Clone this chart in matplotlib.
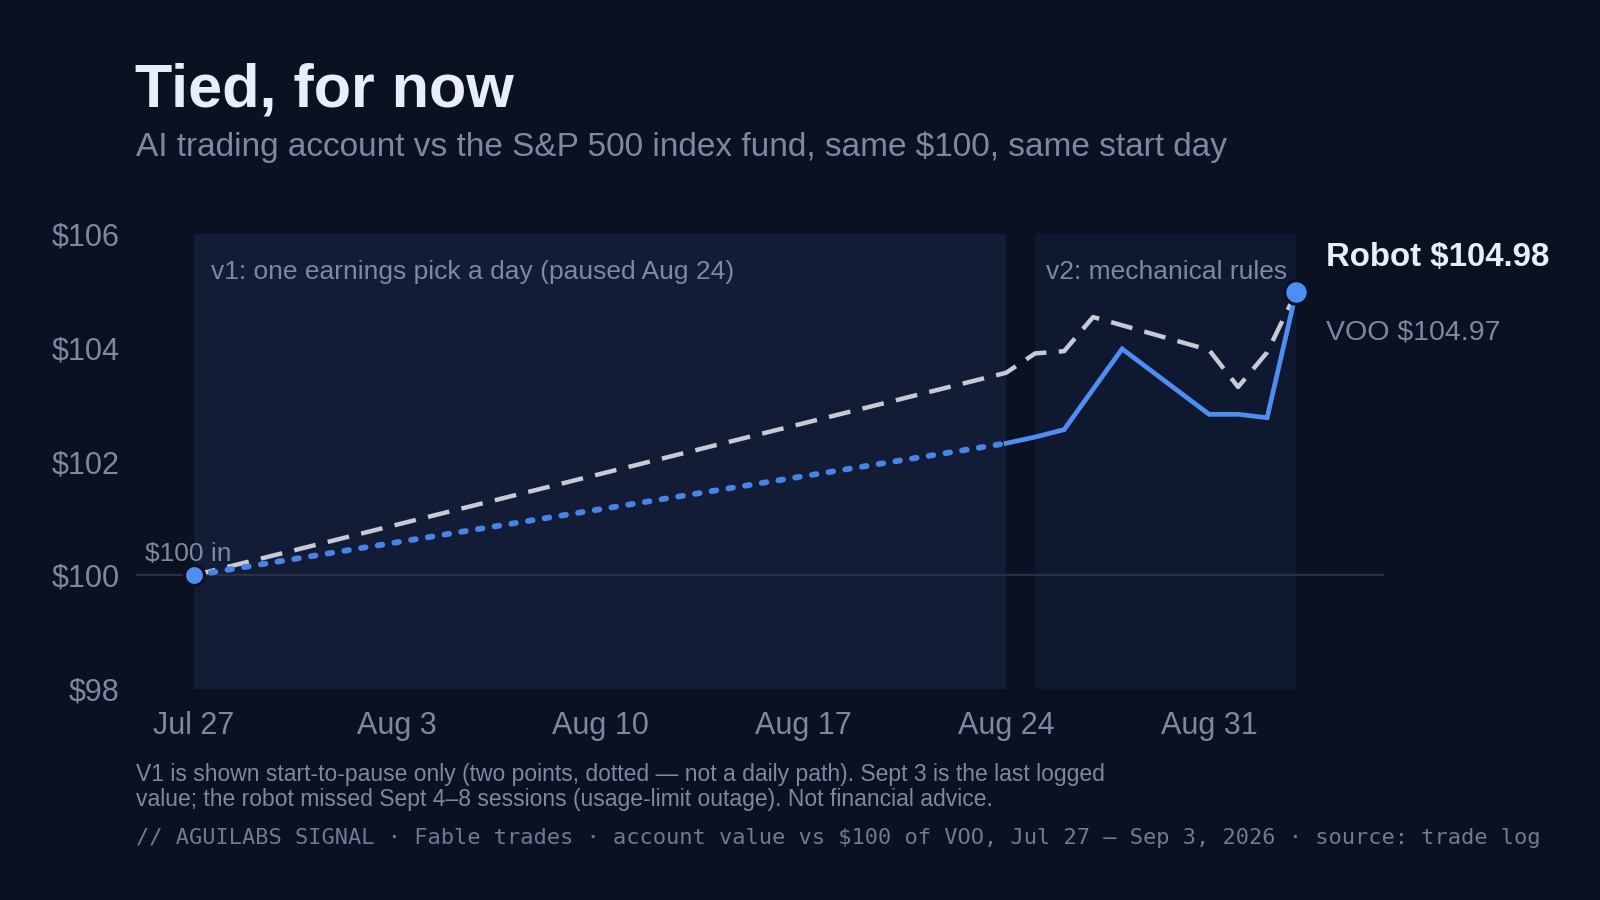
#!/usr/bin/env python3

import numpy as np
import matplotlib.pyplot as plt
import matplotlib.dates as mdates

# data
robot_v1_dates = np.array(["2026-07-27", "2026-08-24"], dtype="datetime64[D]")
robot_v1_vals = [100.00, 102.32]

robot_v2_dates = np.array(["2026-08-24", "2026-08-25", "2026-08-26", "2026-08-28",
                           "2026-08-31", "2026-09-01", "2026-09-02", "2026-09-03"],
                          dtype="datetime64[D]")
robot_v2_vals = [102.32, 102.43, 102.56, 103.98, 102.83, 102.83, 102.77, 104.98]

voo_dates = np.array(["2026-07-27", "2026-08-24", "2026-08-25", "2026-08-26", "2026-08-27",
                      "2026-08-31", "2026-09-01", "2026-09-02", "2026-09-03"],
                     dtype="datetime64[D]")
voo_vals = [100.00, 103.56, 103.90, 103.94, 104.54, 103.96, 103.31, 103.92, 104.97]

tick_dates = np.array(["2026-07-27", "2026-08-03", "2026-08-10", "2026-08-17",
                       "2026-08-24", "2026-08-31"], dtype="datetime64[D]")
tick_labels = ["Jul 27", "Aug 3", "Aug 10", "Aug 17", "Aug 24", "Aug 31"]
y_ticks = [98, 100, 102, 104, 106]

v1_span = np.array(["2026-07-27", "2026-08-24"], dtype="datetime64[D]")
v2_span = np.array(["2026-08-25", "2026-09-03"], dtype="datetime64[D]")

BG = "#0a1222"
V1_BG = "#121c34"
V2_BG = "#0e1930"
BLUE = "#4d8ef5"
DOT_BLUE = "#4684ea"
GREY_LINE = "#c5cad3"
MUTED = "#7d89a1"
WHITE = "#e8eef8"

plt.rcParams["font.family"] = ["Liberation Sans", "DejaVu Sans"]

fig = plt.figure(figsize=(16, 9), dpi=100, facecolor=BG)
ax = fig.add_axes([136 / 1600, 1 - 689 / 900, (1384 - 136) / 1600, (689 - 234) / 900])
ax.set_facecolor(BG)

d = lambda s: mdates.date2num(np.datetime64(s, "D"))

ax.axvspan(mdates.date2num(v1_span[0]), mdates.date2num(v1_span[1]), color=V1_BG, lw=0, zorder=0)
ax.axvspan(mdates.date2num(v2_span[0]), mdates.date2num(v2_span[1]), color=V2_BG, lw=0, zorder=0)
ax.axhline(100, color="#27304a", lw=1.6, zorder=1)

ax.plot(voo_dates, voo_vals, color=GREY_LINE, lw=3.2, ls=(0, (4.95, 2.8)), zorder=3)
ax.plot(robot_v1_dates, robot_v1_vals, color=DOT_BLUE, lw=4.2, ls=(0, (0.8, 2.1)),
        dash_capstyle="round", zorder=4)
ax.plot(robot_v2_dates, robot_v2_vals, color=BLUE, lw=3.4, solid_joinstyle="miter", zorder=4)

ax.plot(robot_v1_dates[0], robot_v1_vals[0], "o", ms=14.4, color=BLUE, mec=BG, mew=2.3, zorder=5)
ax.plot(robot_v2_dates[-1], robot_v2_vals[-1], "o", ms=17, color=BLUE, mec=BG, mew=2.3, zorder=5)

ax.set_xlim(d("2026-07-27") - 2.0, d("2026-07-27") + 41.03)
ax.set_ylim(98, 106)
ax.set_xticks(mdates.date2num(tick_dates))
ax.set_xticklabels(tick_labels)
ax.set_yticks(y_ticks)
ax.set_yticklabels([f"${v}" for v in y_ticks])
ax.tick_params(length=0, colors=MUTED, labelsize=22)
ax.tick_params(axis="y", pad=12)
ax.tick_params(axis="x", pad=15.5)
for s in ax.spines.values():
    s.set_visible(False)

# annotations
ax.annotate("$100 in", (robot_v1_dates[0], 100), xytext=(-35, 10.5), textcoords="offset points",
            color=MUTED, fontsize=19, va="baseline", ha="left")
ax.annotate("v1: one earnings pick a day (paused Aug 24)", (v1_span[0], 106),
            xytext=(12, -27.5), textcoords="offset points", color=MUTED, fontsize=19,
            va="center", ha="left")
ax.annotate("v2: mechanical rules", (v2_span[0], 106),
            xytext=(8, -27.5), textcoords="offset points", color=MUTED, fontsize=19,
            va="center", ha="left")
ax.annotate(f"Robot ${robot_v2_vals[-1]:.2f}", (robot_v2_dates[-1], robot_v2_vals[-1]),
            xytext=(21.5, 18.5), textcoords="offset points", color=WHITE, fontsize=23.8,
            fontweight="bold", va="baseline", ha="left", annotation_clip=False)
ax.annotate(f"VOO ${voo_vals[-1]:.2f}", (voo_dates[-1], voo_vals[-1]),
            xytext=(21.5, -34), textcoords="offset points", color=MUTED, fontsize=20.5,
            va="baseline", ha="left", annotation_clip=False)

# titles and notes
fig.text(135 / 1600, 1 - 106 / 900, "Tied, for now", color=WHITE, fontsize=44,
         fontweight="bold", va="baseline", ha="left")
fig.text(136 / 1600, 1 - 156 / 900,
         "AI trading account vs the S&P 500 index fund, same $100, same start day",
         color=MUTED, fontsize=24, va="baseline", ha="left")
fig.text(136 / 1600, 1 - 781.5 / 900,
         "V1 is shown start-to-pause only (two points, dotted \u2014 not a daily path). Sept 3 is the last logged",
         color=MUTED, fontsize=16.5, va="baseline", ha="left")
fig.text(136 / 1600, 1 - 806 / 900,
         "value; the robot missed Sept 4\u20138 sessions (usage-limit outage). Not financial advice.",
         color=MUTED, fontsize=16.5, va="baseline", ha="left")
fig.text(136 / 1600, 1 - 844 / 900,
         "// AGUILABS SIGNAL \u00b7 Fable trades \u00b7 account value vs $100 of VOO, "
         "Jul 27 \u2013 Sep 3, 2026 \u00b7 source: trade log",
         color="#6f7b93", fontsize=15.8, family="DejaVu Sans Mono", va="baseline", ha="left")

fig.savefig("out.png", dpi=100, facecolor=BG)
